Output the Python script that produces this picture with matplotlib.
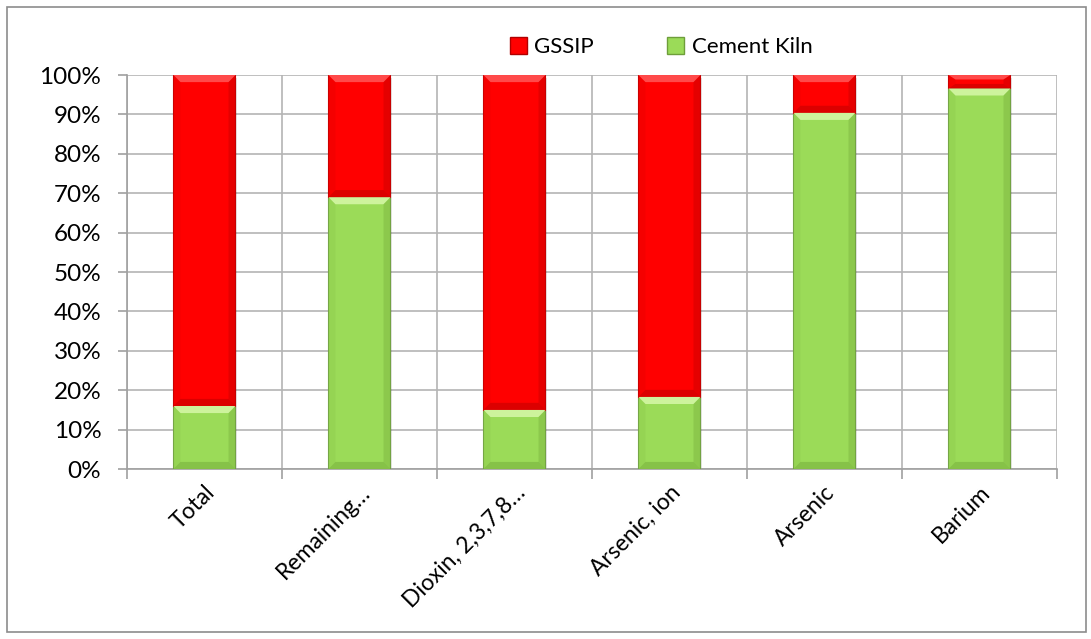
import matplotlib
matplotlib.use("Agg")
import matplotlib.pyplot as plt
from matplotlib.patches import Polygon, Rectangle, Patch
from matplotlib.ticker import MultipleLocator, PercentFormatter

categories = ["Total", "Remaining…", "Dioxin, 2,3,7,8…", "Arsenic, ion", "Arsenic", "Barium"]
cement_kiln = [16.0, 69.0, 15.0, 18.3, 90.4, 96.6]
gssip = [100 - v for v in cement_kiln]

series_names = ["GSSIP", "Cement Kiln"]
red = "#FF0000"
green = "#9BDB58"

plt.rcParams["font.family"] = ["Lato", "DejaVu Sans"]
FS = 16

fig = plt.figure(figsize=(10.91, 6.39), dpi=100)
ax = fig.add_axes([0.1164, 0.2660, 0.8524, 0.6166])

# outer chart border
fig.patches.append(Rectangle((0.0064, 0.011), 0.9890, 0.978, transform=fig.transFigure,
                             fill=False, edgecolor="#8C8C8C", linewidth=1.2))

width = 0.4
x = list(range(len(categories)))


def bevel(ax, x0, y0, w, h, light, dark, top_light):
    """Shade a rectangular segment so it looks like a raised bevelled block."""
    dx = 0.045
    dy = min(1.8, h / 3)
    x1, y1 = x0 + w, y0 + h
    # top facet
    ax.add_patch(Polygon([(x0, y1), (x1, y1), (x1 - dx, y1 - dy), (x0 + dx, y1 - dy)],
                         closed=True, facecolor=top_light, edgecolor="none", zorder=4))
    # bottom facet
    ax.add_patch(Polygon([(x0, y0), (x1, y0), (x1 - dx, y0 + dy), (x0 + dx, y0 + dy)],
                         closed=True, facecolor=dark, edgecolor="none", alpha=0.22, zorder=4))
    # right facet
    ax.add_patch(Polygon([(x1, y0), (x1, y1), (x1 - dx, y1 - dy), (x1 - dx, y0 + dy)],
                         closed=True, facecolor=dark, edgecolor="none", alpha=0.16, zorder=4))
    # left facet
    ax.add_patch(Polygon([(x0, y0), (x0, y1), (x0 + dx, y1 - dy), (x0 + dx, y0 + dy)],
                         closed=True, facecolor=dark, edgecolor="none", alpha=0.06, zorder=4))


# soft drop shadow behind each stacked column
for xi in x:
    ax.add_patch(Rectangle((xi - width / 2 + 0.012, -0.7), width, 100, facecolor="#000000",
                           alpha=0.10, edgecolor="none", zorder=2))

bars_g = ax.bar(x, cement_kiln, width=width, color=green, edgecolor="#78A848",
                linewidth=0.8, zorder=3, label=series_names[1])
bars_r = ax.bar(x, gssip, width=width, bottom=cement_kiln, color=red, edgecolor="#D00000",
                linewidth=0.8, zorder=3, label=series_names[0])

for b in bars_g:
    bevel(ax, b.get_x(), b.get_y(), b.get_width(), b.get_height(),
          "#E6FFC0", "#3E6A12", "#CDF39C")
for b in bars_r:
    bevel(ax, b.get_x(), b.get_y(), b.get_width(), b.get_height(),
          "#FF9090", "#600000", "#FF4A4A")

ax.set_xlim(-0.5, len(categories) - 0.5)
ax.set_ylim(0, 100)
ax.yaxis.set_major_locator(MultipleLocator(10))
ax.yaxis.set_major_formatter(PercentFormatter(decimals=0))

# vertical gridlines sit between categories
ax.set_xticks([i - 0.5 for i in range(len(categories) + 1)], minor=False)
ax.set_xticklabels([])
ax.set_xticks(x, minor=True)
ax.set_xticklabels(categories, minor=True, rotation=45, ha="right", va="top",
                   rotation_mode="anchor", fontsize=16.5)
ax.tick_params(axis="x", which="minor", length=0, pad=9)
ax.tick_params(axis="x", which="major", length=7, color="#A0A0A0", width=1.2)
ax.tick_params(axis="y", length=6.5, color="#A0A0A0", width=1.2, labelsize=17.5, pad=12)

ax.grid(True, which="major", color="#B4B4B4", linewidth=1.2, zorder=0)
ax.set_axisbelow(True)
for side in ["top", "right"]:
    ax.spines[side].set_visible(False)
for side in ["left", "bottom"]:
    ax.spines[side].set_color("#A0A0A0")
    ax.spines[side].set_linewidth(1.2)

handles = [Patch(facecolor=red, edgecolor="#B00000"), Patch(facecolor=green, edgecolor="#6E9E3A")]
fig.legend(handles, series_names, loc="center", bbox_to_anchor=(0.606, 0.926), ncol=2,
           frameon=False, fontsize=FS, handlelength=0.75, handleheight=0.75,
           handletextpad=0.35, columnspacing=3.3)

fig.savefig("out.png", dpi=100)
